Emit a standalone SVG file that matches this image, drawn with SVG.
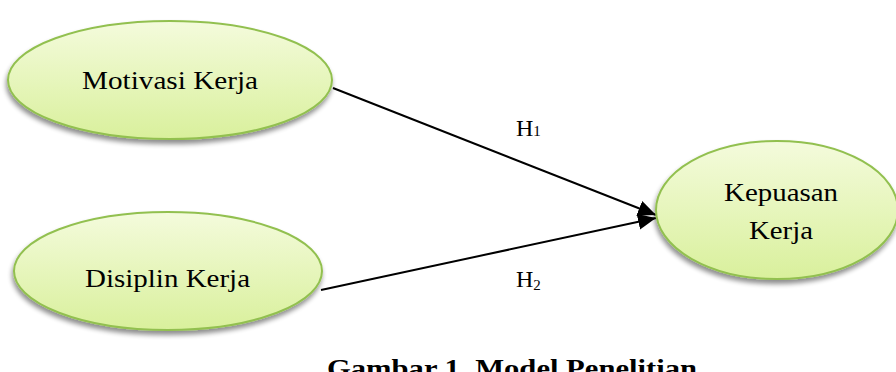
<svg xmlns="http://www.w3.org/2000/svg" width="896" height="372" viewBox="0 0 896 372">
<defs>
<linearGradient id="g" x1="0" y1="0" x2="0" y2="1">
<stop offset="0" stop-color="#f4fbdc"/>
<stop offset="1" stop-color="#d9f09c"/>
</linearGradient>
<filter id="sh" x="-10%" y="-10%" width="120%" height="130%">
<feGaussianBlur in="SourceAlpha" stdDeviation="2.5"/>
<feOffset dx="-1" dy="4" result="b"/>
<feComponentTransfer><feFuncA type="linear" slope="0.45"/></feComponentTransfer>
<feMerge><feMergeNode/><feMergeNode in="SourceGraphic"/></feMerge>
</filter>
<marker id="ah" viewBox="0 0 10 10" refX="10" refY="5" markerWidth="9" markerHeight="9" markerUnits="userSpaceOnUse" orient="auto">
<path d="M0,0 L10,5 L0,10 z" fill="#000"/>
</marker>
<marker id="arr" viewBox="0 0 18 16" refX="18" refY="8" markerWidth="18" markerHeight="16" markerUnits="userSpaceOnUse" orient="auto">
<path d="M0,0 L18,8 L0,16 z" fill="#000"/>
</marker>
</defs>
<style>
.node{fill:url(#g);stroke:#92c050;stroke-width:2;filter:url(#sh)}
.t{font-family:"Liberation Serif","Times New Roman",serif;font-size:26px;fill:#000}
.h{font-family:"Liberation Serif","Times New Roman",serif;font-size:24px;fill:#000}
.edge{stroke:#000;stroke-width:2;fill:none}
.cap{font-family:"Liberation Serif","Times New Roman",serif;font-size:26px;font-weight:bold;fill:#000}
</style>
<rect width="896" height="372" fill="#fff"/>
<g id="connectors">
<line class="edge" x1="333" y1="88" x2="656" y2="215" marker-end="url(#arr)"/>
<line class="edge" x1="321" y1="290" x2="656" y2="218" marker-end="url(#arr)"/>
</g>
<g id="motivasi">
<ellipse class="node" cx="170" cy="80" rx="162" ry="59"/>
<text class="t" x="82" y="89" textLength="176" lengthAdjust="spacingAndGlyphs">Motivasi Kerja</text>
</g>
<g id="disiplin">
<ellipse class="node" cx="168" cy="271" rx="154" ry="59"/>
<text class="t" x="85" y="287" textLength="165" lengthAdjust="spacingAndGlyphs">Disiplin Kerja</text>
</g>
<g id="kepuasan">
<ellipse class="node" cx="777" cy="210" rx="121" ry="69"/>
<text class="t" x="724" y="201" textLength="114" lengthAdjust="spacingAndGlyphs">Kepuasan</text>
<text class="t" x="749" y="239" textLength="64" lengthAdjust="spacingAndGlyphs">Kerja</text>
</g>
<g id="h1">
<text class="h" x="516" y="136">H<tspan font-size="15">1</tspan></text>
</g>
<g id="h2">
<text class="h" x="516" y="287">H<tspan font-size="15" dy="3">2</tspan></text>
</g>
<g id="caption">
<text class="cap" x="327" y="377" textLength="370" lengthAdjust="spacingAndGlyphs">Gambar 1. Model Penelitian</text>
</g>
</svg>
